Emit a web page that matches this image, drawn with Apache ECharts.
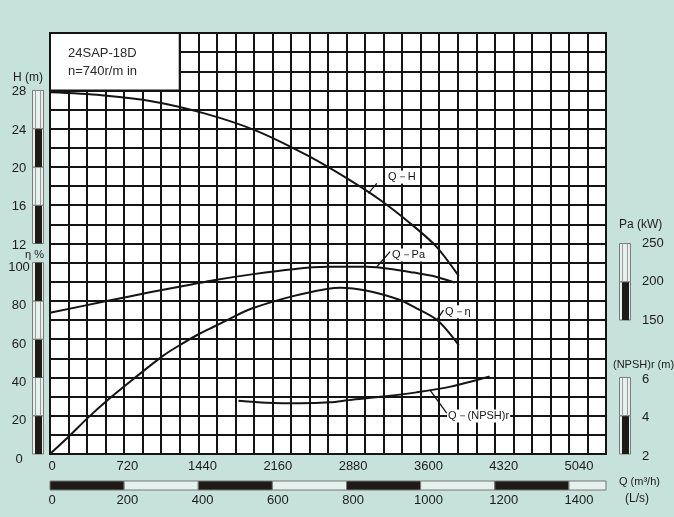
<!DOCTYPE html>
<html><head><meta charset="utf-8">
<script src="https://cdn.jsdelivr.net/npm/echarts@6/dist/echarts.min.js"></script>
<style>html,body{margin:0;padding:0;background:#c6e2db}#c{width:674px;height:517px}</style>
</head><body><div id="c"></div>
<script>
// ---- data ----
const qMax = 5400;            // m3/h at right edge
const lsMax = 1500;           // L/s at right edge

const hQ   = [0, 500, 1000, 1500, 2000, 2500, 2900, 3200, 3500, 3750, 3970];
const hVal = [27.8, 27.5, 26.85, 25.6, 23.8, 21.2, 18.7, 16.6, 14.1, 11.7, 8.6];

const paQ   = [0, 550, 970, 1360, 1590, 1975, 2360, 2690, 3080, 3370, 3530, 3720, 3930];
const paVal = [159.5, 174.8, 186.2, 196, 202, 210, 216.5, 219.5, 219.5, 215.5, 212, 207.5, 199];

const etaQ   = [0, 180, 370, 580, 810, 1100, 1260, 1460, 1590, 1720, 1960, 2360, 2690, 2820, 3080, 3400, 3530, 3760, 3970];
const etaVal = [0, 9, 19, 29.1, 39.2, 51.4, 56.9, 63.1, 66.5, 70, 76, 82.5, 86.2, 86.9, 85.3, 80.5, 77, 70, 56.9];

const npshQ   = [1830, 2100, 2430, 2720, 2910, 3240, 3560, 3890, 4270];
const npshVal = [4.78, 4.68, 4.65, 4.70, 4.82, 5.0, 5.22, 5.52, 6.05];

const qTicks    = [0, 720, 1440, 2160, 2880, 3600, 4320, 5040];
const lsTicks   = [0, 200, 400, 600, 800, 1000, 1200, 1400];
const hTicks    = [12, 16, 20, 24, 28];
const etaTicks  = [0, 20, 40, 60, 80, 100];
const paTicks   = [150, 200, 250];
const npshTicks = [2, 4, 6];

// scale rulers: [from, to, dark]
const hBands    = [[12, 16, 1], [16, 20, 0], [20, 24, 1], [24, 28, 0]];
const etaBands  = [[0, 20, 1], [20, 40, 0], [40, 60, 1], [60, 80, 0], [80, 100, 1]];
const paBands   = [[150, 200, 1], [200, 250, 0]];
const npshBands = [[2, 4, 1], [4, 6, 0]];
const lsBands   = [[0, 200, 1], [200, 400, 0], [400, 600, 1], [600, 800, 0], [800, 1000, 1], [1000, 1200, 0], [1200, 1400, 1], [1400, 1500, 0]];

const modelText = '24SAP-18D';
const speedText = 'n=740r/m in';

// ---- helpers ----
const pairs = (xs, ys) => xs.map((x, i) => [x, ys[i]]);
const INK = '#141414';
const FONT = 'Liberation Sans, Arial, sans-serif';
const LIGHT = '#e6f1ee';

function ruler(side) {
  return function (params, api) {
    const lo = api.value(0), hi = api.value(1), dark = api.value(2);
    const xq = side === 'left' ? 0 : qMax;
    const a = api.coord([xq, lo]);
    const b = api.coord([xq, hi]);
    const x0 = side === 'left' ? a[0] - 18 : a[0] + 13;
    const y0 = b[1], h = a[1] - b[1], w = 11;
    const ch = [
      { type: 'rect', shape: { x: x0 + 0.5, y: y0, width: w, height: h }, style: { fill: LIGHT, stroke: '#7a7a7a', lineWidth: 1 } },
      { type: 'line', shape: { x1: x0 + 3.5, y1: y0, x2: x0 + 3.5, y2: y0 + h }, style: { stroke: '#9a9a9a', lineWidth: 1 } },
      { type: 'line', shape: { x1: x0 + 8.5, y1: y0, x2: x0 + 8.5, y2: y0 + h }, style: { stroke: '#9a9a9a', lineWidth: 1 } }
    ];
    if (dark) ch.push({ type: 'rect', shape: { x: x0 + 3, y: y0, width: 7, height: h }, style: { fill: '#1e1a18' } });
    return { type: 'group', children: ch };
  };
}

function lsRender(params, api) {
  const lo = api.value(0), hi = api.value(1), dark = api.value(2);
  const a = api.coord([lo, 0]);
  const b = api.coord([hi, 0]);
  const y0 = a[1] + 27, h = 9;
  return {
    type: 'rect',
    shape: { x: a[0], y: y0, width: b[0] - a[0], height: h },
    style: { fill: dark ? '#1e1a18' : LIGHT, stroke: '#777', lineWidth: 1 }
  };
}

const fmt = list => v => (list.includes(Math.round(v * 1000) / 1000) ? String(v) : '');
const fmtRich = list => v => (list.includes(Math.round(v * 1000) / 1000) ? '{s|' + v + '}' : '');

function curve(name, data, yIdx, leader, labelPos) {
  return {
    name, type: 'line', xAxisIndex: 0, yAxisIndex: yIdx, data,
    showSymbol: false, smooth: 0.3,
    lineStyle: { color: INK, width: 2 }, z: 4, silent: true,
    markLine: {
      silent: true, symbol: 'none', animation: false,
      lineStyle: { color: INK, width: 1.3, type: 'solid' },
      label: { show: false },
      data: [[{ coord: leader[0] }, { coord: leader[1] }]]
    },
    markPoint: {
      silent: true, animation: false, symbol: 'rect', symbolSize: 0,
      data: [{ coord: labelPos, value: name }],
      label: {
        show: true, position: 'right', distance: 0, formatter: name,
        color: INK, fontSize: 11, fontFamily: FONT,
        backgroundColor: '#fff', padding: [1, 1]
      }
    }
  };
}

const chart = echarts.init(document.getElementById('c'), null, { renderer: 'canvas' });

const axisHidden = { axisLine: { show: false }, axisTick: { show: false }, splitLine: { show: false } };
const labelStyle = { color: '#1c1c1c', fontSize: 13, fontFamily: FONT };
const shift = px => ({ s: { color: '#1c1c1c', fontSize: 13, fontFamily: FONT, padding: [px * 2, 0, 0, 0] } });

const option = {
  animation: false,
  backgroundColor: '#c6e2db',
  textStyle: { fontFamily: FONT },
  grid: [
    { left: 50, right: 68, top: 33, bottom: 63, show: true, backgroundColor: '#fff', borderColor: INK, borderWidth: 2, outerBoundsMode: 'none' },
    { left: 52, right: 57.4, top: 33, bottom: 63, show: false, outerBoundsMode: 'none' }
  ],
  xAxis: [
    { type: 'value', gridIndex: 0, min: 0, max: qMax, interval: 180,
      axisLine: { show: true, lineStyle: { color: INK, width: 2 } }, axisTick: { show: false }, axisLabel: { show: false },
      splitLine: { show: true, lineStyle: { color: INK, width: 2 } } },
    { type: 'value', gridIndex: 0, min: 0, max: lsMax, show: false },
    Object.assign({ type: 'value', gridIndex: 1, min: 0, max: qMax, interval: 720, position: 'bottom',
      axisLabel: Object.assign({ margin: 6, formatter: fmt(qTicks) }, labelStyle) }, axisHidden),
    Object.assign({ type: 'value', gridIndex: 1, min: 0, max: lsMax, interval: 100, position: 'bottom', offset: 34,
      axisLabel: Object.assign({ margin: 6, formatter: fmt(lsTicks) }, labelStyle) }, axisHidden)
  ],
  yAxis: [
    { type: 'value', gridIndex: 0, min: 0, max: 220, interval: 10, position: 'left',
      axisLine: { show: false }, axisTick: { show: false },
      axisLabel: Object.assign({ margin: 31, align: 'center', formatter: fmtRich(etaTicks), rich: shift(5) }, labelStyle),
      splitLine: { show: true, lineStyle: { color: INK, width: 2 } } },
    Object.assign({ type: 'value', gridIndex: 0, min: -10, max: 34, interval: 2, position: 'left',
      axisLabel: Object.assign({ margin: 31, align: 'center', formatter: fmtRich(hTicks), rich: shift(1.5) }, labelStyle) }, axisHidden),
    Object.assign({ type: 'value', gridIndex: 0, min: -25, max: 525, interval: 25, position: 'right',
      axisLabel: Object.assign({ margin: 36, align: 'left', formatter: fmt(paTicks) }, labelStyle) }, axisHidden),
    Object.assign({ type: 'value', gridIndex: 0, min: 2, max: 24, interval: 1, position: 'right',
      axisLabel: Object.assign({ margin: 36, align: 'left', formatter: fmtRich(npshTicks), rich: shift(2) }, labelStyle) }, axisHidden),
    Object.assign({ type: 'value', gridIndex: 1, min: 0, max: 1, show: false }, axisHidden)
  ],
  series: [
    {
      name: 'box', type: 'line', xAxisIndex: 0, yAxisIndex: 0, data: [], silent: true,
      markArea: {
        silent: true, animation: false,
        itemStyle: { color: '#fff', opacity: 1, borderColor: INK, borderWidth: 2 },
        data: [[{ coord: [0, 190] }, { coord: [1260, 220] }]]
      }
    },
    curve('Q－H', pairs(hQ, hVal), 1, [[3092, 17.24], [3174, 18.29]], [3274, 18.94]),
    curve('Q－Pa', pairs(paQ, paVal), 2, [[3174, 219.6], [3303, 239.3]], [3312, 234.9]),
    curve('Q－η', pairs(etaQ, etaVal), 0, [[3756, 70.0], [3821, 75.2]], [3827, 74.3]),
    curve('Q－(NPSH)r', pairs(npshQ, npshVal), 3, [[3691, 5.34], [3853, 4.13]], [3856, 3.99]),
    { type: 'custom', xAxisIndex: 0, yAxisIndex: 1, data: hBands, renderItem: ruler('left'), clip: false, silent: true, z: 5 },
    { type: 'custom', xAxisIndex: 0, yAxisIndex: 0, data: etaBands, renderItem: ruler('left'), clip: false, silent: true, z: 5 },
    { type: 'custom', xAxisIndex: 0, yAxisIndex: 2, data: paBands, renderItem: ruler('right'), clip: false, silent: true, z: 5 },
    { type: 'custom', xAxisIndex: 0, yAxisIndex: 3, data: npshBands, renderItem: ruler('right'), clip: false, silent: true, z: 5 },
    { type: 'custom', xAxisIndex: 1, yAxisIndex: 0, data: lsBands, renderItem: lsRender, clip: false, silent: true, z: 5 }
  ],
  graphic: [
    { type: 'text', left: 68, top: 47, z: 100, style: { text: modelText, font: '13px ' + FONT, fill: '#2a2a2a' } },
    { type: 'text', left: 68, top: 65, z: 100, style: { text: speedText, font: '13px ' + FONT, fill: '#2a2a2a' } },
    { type: 'text', left: 13, top: 72, style: { text: 'H (m)', font: '12px ' + FONT, fill: '#1c1c1c' } },
    { type: 'text', left: 25, top: 249, style: { text: 'η %', font: '11px ' + FONT, fill: '#1c1c1c' } },
    { type: 'text', left: 619, top: 219, style: { text: 'Pa (kW)', font: '12px ' + FONT, fill: '#1c1c1c' } },
    { type: 'text', left: 613, top: 359, style: { text: '(NPSH)r (m)', font: '11px ' + FONT, fill: '#1c1c1c' } },
    { type: 'text', left: 619, top: 476, style: { text: 'Q (m³/h)', font: '11px ' + FONT, fill: '#1c1c1c' } },
    { type: 'text', left: 625, top: 493, style: { text: '(L/s)', font: '12px ' + FONT, fill: '#1c1c1c' } }
  ]
};
chart.setOption(option);
</script>
</body></html>
